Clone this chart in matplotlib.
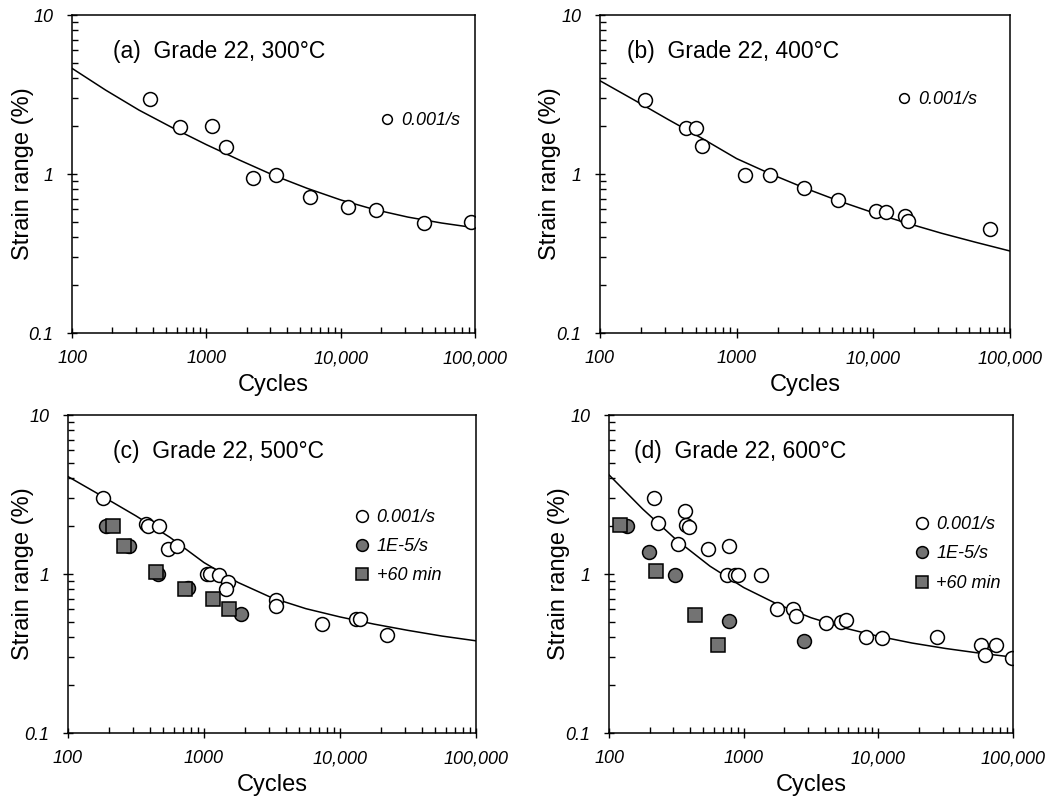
import numpy as np
import matplotlib.pyplot as plt
from matplotlib.ticker import FixedLocator, LogLocator, NullFormatter
from matplotlib.transforms import ScaledTranslation

plt.rcParams['font.family'] = ['Liberation Sans', 'DejaVu Sans']

# Data (cycles, strain range %)
# (a) 300C, 0.001/s
a_n = [380, 637, 1096, 1393, 2236, 3300, 5913, 11350, 18330, 41700, 93900]
a_e = [2.95, 1.97, 2.0, 1.47, 0.95, 0.98, 0.715, 0.622, 0.595, 0.491, 0.50]

# (b) 400C, 0.001/s
b_n = [214, 428, 506, 557, 1143, 1750, 3135, 5560, 10420, 12480, 17100, 17870, 71800]
b_e = [2.94, 1.96, 1.96, 1.50, 0.99, 0.99, 0.818, 0.69, 0.589, 0.578, 0.543, 0.507, 0.45]

# (c) 500C
c_fast_n = [182, 375, 390, 470, 547, 631, 1059, 1100, 1291, 1496, 1450, 3355, 3355, 7400, 13000, 14100, 22100]
c_fast_e = [2.99, 2.05, 2.0, 2.0, 1.43, 1.5, 1.0, 1.0, 0.99, 0.885, 0.81, 0.69, 0.627, 0.483, 0.522, 0.522, 0.412]
c_slow_n = [190, 283, 462, 760, 1865]
c_slow_e = [2.0, 1.5, 1.0, 0.82, 0.564]
c_hold_n = [216, 258, 440, 730, 1173, 1521]
c_hold_e = [2.0, 1.5, 1.03, 0.80, 0.70, 0.60]

# (d) 600C
d_fast_n = [216, 231, 366, 371, 392, 325, 543, 777, 747, 861, 912, 1335, 1776, 2333, 2427,
            4055, 5240, 5770, 8030, 10670, 27300, 58200, 62400, 75300, 98400]
d_fast_e = [3.0, 2.08, 2.5, 2.03, 1.98, 1.54, 1.43, 1.5, 0.99, 0.99, 0.99, 0.99, 0.60, 0.60, 0.543,
            0.493, 0.50, 0.51, 0.40, 0.397, 0.40, 0.36, 0.311, 0.36, 0.298]
d_slow_n = [135, 198, 309, 777, 2800]
d_slow_e = [2.0, 1.38, 0.98, 0.505, 0.38]
d_hold_n = [121, 224, 432, 644]
d_hold_e = [2.03, 1.04, 0.556, 0.36]

# fitted curves, read every quarter decade
curve_n = [100, 178, 316, 562, 1000, 1778, 3162, 5623, 10000, 17783, 31623, 56234, 100000]
a_fit = [4.62, 3.37, 2.52, 1.95, 1.53, 1.22, 0.982, 0.813, 0.687, 0.598, 0.536, 0.492, 0.459]
b_fit = [3.86, 2.92, 2.20, 1.67, 1.25, 1.0, 0.815, 0.676, 0.571, 0.490, 0.424, 0.372, 0.328]
c_fit = [4.10, 3.09, 2.32, 1.70, 1.18, 0.885, 0.708, 0.605, 0.537, 0.484, 0.442, 0.407, 0.380]
d_fit = [4.20, 2.56, 1.64, 1.12, 0.822, 0.646, 0.531, 0.457, 0.406, 0.368, 0.340, 0.318, 0.300]

GRAY = '#737373'

fig = plt.figure(figsize=(10.64, 7.99), dpi=100)


def setup(ax, title, tx, ylab_x):
    ax.set_xscale('log')
    ax.set_yscale('log')
    ax.set_xlim(100, 100000)
    ax.set_ylim(0.1, 10)
    ax.xaxis.set_major_locator(FixedLocator([100, 1000, 10000, 100000]))
    ax.yaxis.set_major_locator(FixedLocator([0.1, 1, 10]))
    ax.xaxis.set_minor_locator(LogLocator(base=10, subs=np.arange(2, 10)))
    ax.yaxis.set_minor_locator(LogLocator(base=10, subs=np.arange(2, 10)))
    ax.xaxis.set_minor_formatter(NullFormatter())
    ax.yaxis.set_minor_formatter(NullFormatter())
    ax.set_xticklabels(['100', '1000', '10,000', '100,000'], fontstyle='italic', fontsize=13)
    ax.set_yticklabels(['0.1', '1', '10'], fontstyle='italic', fontsize=13)
    shift = ScaledTranslation(0, -3 / 72, fig.dpi_scale_trans)
    for lab in ax.get_yticklabels():
        lab.set_transform(lab.get_transform() + shift)
    ax.tick_params(which='major', direction='inout', length=7, width=1)
    ax.tick_params(which='minor', direction='in', length=4, width=1)
    ax.tick_params(axis='x', which='major', pad=9)
    ax.tick_params(axis='y', which='major', pad=10)
    for s in ax.spines.values():
        s.set_linewidth(1.1)
    ax.set_xlabel('Cycles', fontsize=17, labelpad=5)
    ax.set_ylabel('Strain range (%)', fontsize=17)
    ax.yaxis.set_label_coords(ylab_x, 0.5)
    ax.text(tx, 0.885, title, transform=ax.transAxes, fontsize=16.5, va='center', ha='left')


open_kw = dict(linestyle='none', marker='o', ms=10, mfc='white', mec='black', mew=1.1)
slow_kw = dict(linestyle='none', marker='o', ms=10, mfc=GRAY, mec='black', mew=1.1)
hold_kw = dict(linestyle='none', marker='s', ms=9.5, mfc=GRAY, mec='black', mew=1.1)
leg_kw = dict(frameon=False, handlelength=1.0, handletextpad=0.3, borderpad=0, borderaxespad=0,
              prop={'style': 'italic', 'size': 13})

# (a)
ax = fig.add_axes([0.0677, 0.5832, 0.3788, 0.398])
setup(ax, '(a)  Grade 22, 300\u00b0C', 0.102, -0.094)
ax.plot(curve_n, a_fit, color='black', lw=1.1)
ax.plot(a_n, a_e, label='0.001/s', **open_kw)
ax.legend(loc='center left', bbox_to_anchor=(0.759, 0.668), markerscale=0.7, **leg_kw)

# (b)
ax = fig.add_axes([0.5639, 0.5832, 0.3853, 0.398])
setup(ax, '(b)  Grade 22, 400\u00b0C', 0.067, -0.095)
ax.plot(curve_n, b_fit, color='black', lw=1.1)
ax.plot(b_n, b_e, label='0.001/s', **open_kw)
ax.legend(loc='center left', bbox_to_anchor=(0.720, 0.733), markerscale=0.7, **leg_kw)

# (c)
ax = fig.add_axes([0.0639, 0.0826, 0.3835, 0.398])
setup(ax, '(c)  Grade 22, 500\u00b0C', 0.111, -0.083)
ax.plot(curve_n, c_fit, color='black', lw=1.1)
ax.plot(c_fast_n, c_fast_e, label='0.001/s', **open_kw)
ax.plot(c_slow_n, c_slow_e, label='1E-5/s', **slow_kw)
ax.plot(c_hold_n, c_hold_e, label='+60 min', **hold_kw)
ax.legend(loc='center left', bbox_to_anchor=(0.699, 0.586), markerscale=0.85, labelspacing=0.65, **leg_kw)

# (d)
ax = fig.add_axes([0.5724, 0.0826, 0.3797, 0.398])
setup(ax, '(d)  Grade 22, 600\u00b0C', 0.062, -0.097)
ax.plot(curve_n, d_fit, color='black', lw=1.1)
ax.plot(d_fast_n, d_fast_e, label='0.001/s', **open_kw)
ax.plot(d_slow_n, d_slow_e, label='1E-5/s', **slow_kw)
ax.plot(d_hold_n, d_hold_e, label='+60 min', **hold_kw)
ax.legend(loc='center left', bbox_to_anchor=(0.752, 0.563), markerscale=0.85, labelspacing=0.7, **leg_kw)

fig.savefig('out.png', dpi=100)
